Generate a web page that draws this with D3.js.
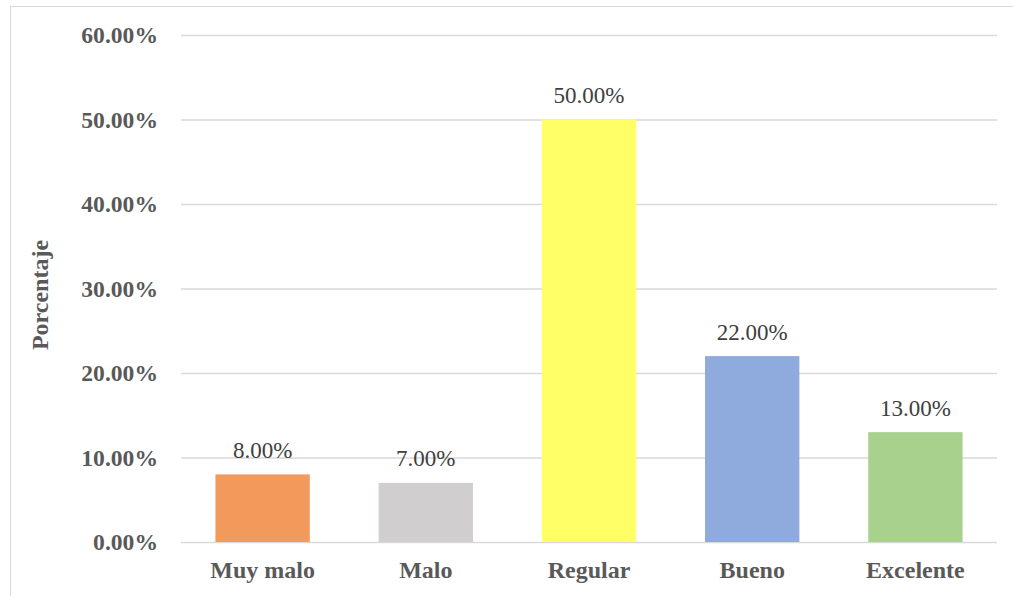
<!DOCTYPE html>
<html>
<head>
<meta charset="utf-8">
<script src="https://cdn.jsdelivr.net/npm/d3@7"></script>
<style>
	body { margin: 0; background: #fff; }
	svg { display: block; }
</style>
</head>
<body>
<div id="chart"></div>
<script>
const categories = ['Muy malo', 'Malo', 'Regular', 'Bueno', 'Excelente'];
const values = [8, 7, 50, 22, 13];
const colors = ['#F19A5B', '#D0CECE', '#FFFF66', '#8FAADC', '#A9D18E'];
const ticks = [0, 10, 20, 30, 40, 50, 60];

const widthSvg = 1013;
const heightSvg = 596;
const margin = {top: 35, right: 16, bottom: 54, left: 181};
const fontSerif = '"Liberation Serif", "Times New Roman", serif';

const svg = d3.select('#chart').append('svg')
	.attr('width', widthSvg)
	.attr('height', heightSvg);

// chart frame
svg.append('rect')
	.attr('x', 10.5)
	.attr('y', 6.5)
	.attr('width', widthSvg + 10)
	.attr('height', heightSvg + 10)
	.style('fill', 'none')
	.style('stroke', '#D9D9D9');

const xScale = d3.scaleBand()
	.domain(categories)
	.range([margin.left, widthSvg - margin.right])
	.paddingInner(0.73 / 1.73)
	.paddingOuter(0.73 / 1.73 / 2);

const yScale = d3.scaleLinear()
	.domain([0, 60])
	.range([heightSvg - margin.bottom, margin.top]);

// gridlines
const yAxis = d3.axisLeft(yScale)
	.tickValues(ticks)
	.tickSize(-(widthSvg - margin.right - margin.left))
	.tickFormat(d => d.toFixed(2) + '%');

const gy = svg.append('g')
	.attr('transform', `translate(${margin.left},0)`)
	.call(yAxis);
gy.select('.domain').remove();
gy.selectAll('line')
	.style('stroke', '#D9D9D9')
	.style('stroke-width', 1.5);
gy.selectAll('text')
	.attr('x', -23)
	.attr('dy', '0.33em')
	.style('font-family', fontSerif)
	.style('font-size', '23.6px')
	.style('font-weight', 'bold')
	.style('fill', '#595959');

svg.selectAll('rect.bar')
	.data(values)
	.enter().append('rect')
	.attr('class', 'bar')
	.attr('x', (v, i) => xScale(categories[i]))
	.attr('width', xScale.bandwidth())
	.attr('y', v => yScale(v))
	.attr('height', v => yScale(0) - yScale(v))
	.style('fill', (v, i) => colors[i]);

svg.selectAll('text.val')
	.data(values)
	.enter().append('text')
	.attr('class', 'val')
	.attr('x', (v, i) => xScale(categories[i]) + xScale.bandwidth() / 2)
	.attr('y', v => yScale(v) - 16.5)
	.attr('text-anchor', 'middle')
	.style('font-family', fontSerif)
	.style('font-size', '23px')
	.style('fill', '#404040')
	.text(v => v.toFixed(2) + '%');

const xAxis = d3.axisBottom(xScale).tickSize(0);
const gx = svg.append('g')
	.attr('transform', `translate(0,${heightSvg - margin.bottom})`)
	.call(xAxis);
gx.select('.domain').remove();
gx.selectAll('text')
	.attr('y', 0)
	.attr('dy', 36)
	.style('font-family', fontSerif)
	.style('font-size', '24px')
	.style('font-weight', 'bold')
	.style('fill', '#595959');

svg.append('text')
	.attr('transform', 'translate(48,295) rotate(-90)')
	.attr('text-anchor', 'middle')
	.style('font-family', fontSerif)
	.style('font-size', '24px')
	.style('font-weight', 'bold')
	.style('fill', '#595959')
	.text('Porcentaje');
</script>
</body>
</html>
